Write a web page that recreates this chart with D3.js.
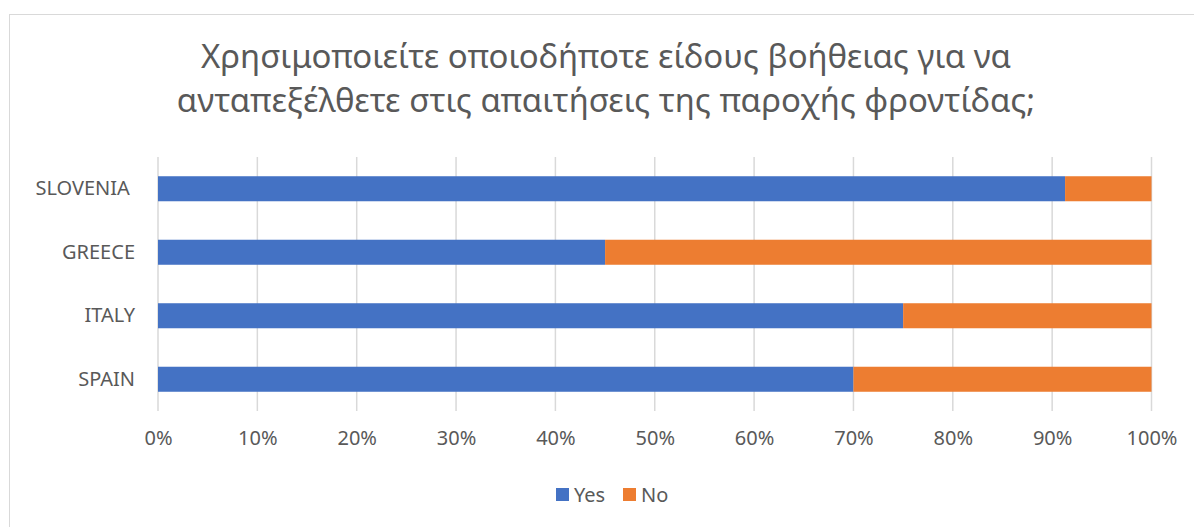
<!DOCTYPE html>
<html><head><meta charset="utf-8">
<script src="https://cdn.jsdelivr.net/npm/d3@7"></script>
<style>
body{margin:0;background:#fff;}
svg{display:block;font-family:"Noto Sans","Open Sans",sans-serif;}
</style></head>
<body>
<svg id="c" width="1194" height="527"></svg>
<script>
const titleLines = ["Χρησιμοποιείτε οποιοδήποτε είδους βοήθειας για να","ανταπεξέλθετε στις απαιτήσεις της παροχής φροντίδας;"];
const categories = ["SLOVENIA ","GREECE","ITALY","SPAIN"];
const seriesNames = ["Yes","No"];
const yesValues = [0.913,0.45,0.75,0.70];
const noValues = [0.087,0.55,0.25,0.30];
const xTicks = [0,0.1,0.2,0.3,0.4,0.5,0.6,0.7,0.8,0.9,1.0];
const colors = ["#4472C4","#ED7D31"];

const svg = d3.select("#c");
const textColor = "#595959";
const labelSize = "20px";

// chart border
svg.append("rect").attr("x",9.5).attr("y",14.5).attr("width",1200).attr("height",520)
  .attr("fill","#fff").attr("stroke","#d9d9d9").attr("stroke-width",1);

const x = d3.scaleLinear().domain([0,1]).range([158,1151.5]);
const y = d3.scaleBand().domain(categories).range([157,411]).paddingInner(0.606).paddingOuter(0.303);

// title
const tl = svg.append("g").selectAll("text").data(titleLines).join("text")
  .attr("x",606).attr("y",(d,i)=>68+i*43.5).attr("text-anchor","middle")
  .attr("fill",textColor).style("font-size","100px").text(d=>d);
const w1 = tl.nodes()[0].getComputedTextLength();
tl.style("font-size",(100*810/w1)+"px");

// gridlines
svg.append("g").selectAll("line").data(xTicks).join("line")
  .attr("x1",d=>x(d)).attr("x2",d=>x(d)).attr("y1",157).attr("y2",411)
  .attr("stroke","#d9d9d9").attr("stroke-width",1.5);

// bars
const stackData = categories.map((c,i)=>({cat:c,Yes:yesValues[i],No:noValues[i]}));
const stack = d3.stack().keys(seriesNames)(stackData);
svg.append("g").selectAll("g").data(stack).join("g").attr("fill",(d,i)=>colors[i])
  .selectAll("rect").data(d=>d).join("rect")
  .attr("x",d=>x(d[0])).attr("width",d=>x(d[1])-x(d[0]))
  .attr("y",d=>y(d.data.cat)).attr("height",y.bandwidth());

// x axis
const xAxis = svg.append("g").attr("transform","translate(0,411)")
  .call(d3.axisBottom(x).tickValues(xTicks).tickFormat(d3.format(".0%")).tickSize(0).tickPadding(20));
xAxis.select(".domain").remove();
xAxis.attr("font-size",null).attr("font-family",null);
xAxis.selectAll("text").attr("fill",textColor).style("font-size",labelSize);

// y axis
const yAxis = svg.append("g").attr("transform","translate(158,0)")
  .call(d3.axisLeft(y).tickSize(0).tickPadding(23));
yAxis.select(".domain").remove();
yAxis.attr("font-size",null).attr("font-family",null);
yAxis.selectAll("text").attr("fill",textColor).style("font-size",labelSize).style("white-space","pre");

// legend
const legend = svg.append("g");
const legX = [556,623];
seriesNames.forEach((s,i)=>{
  legend.append("rect").attr("x",legX[i]).attr("y",488).attr("width",13).attr("height",13).attr("fill",colors[i]);
  legend.append("text").attr("x",legX[i]+18).attr("y",501.5).attr("fill",textColor).style("font-size",labelSize).text(s);
});
</script>
</body></html>
